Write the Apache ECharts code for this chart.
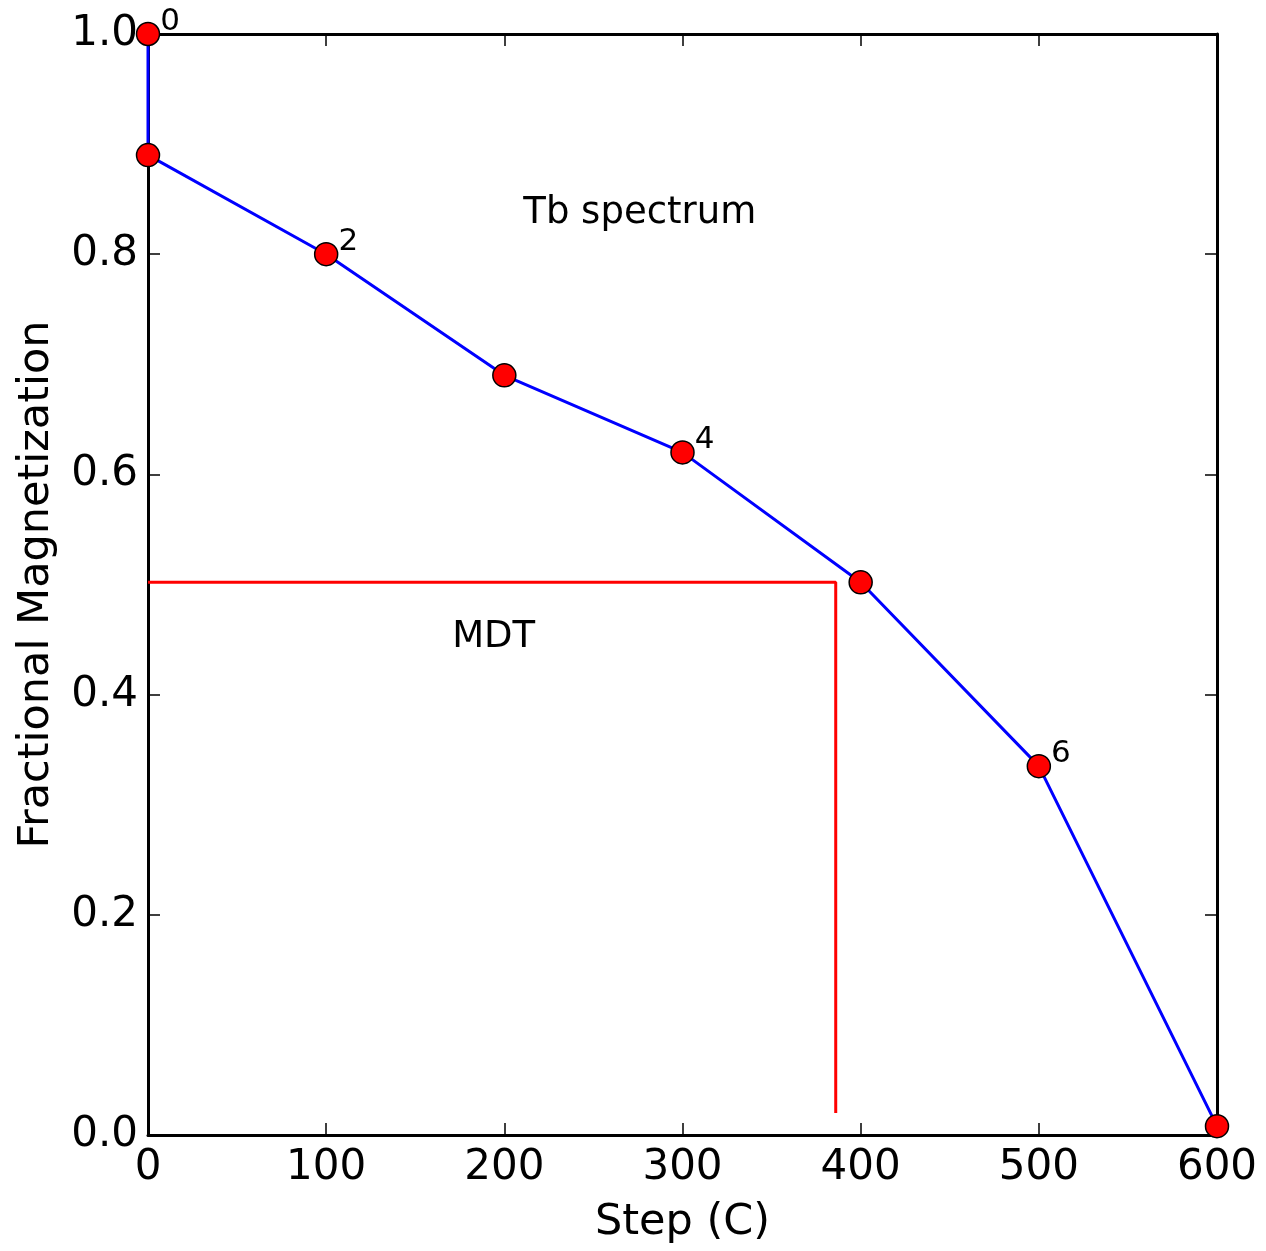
<!DOCTYPE html>
<html><head><meta charset="utf-8">
<script src="https://cdn.jsdelivr.net/npm/echarts@6/dist/echarts.min.js"></script>
<style>html,body{margin:0;padding:0;background:#fff}#c{width:1266px;height:1251px}</style>
</head><body><div id="c"></div>
<script>
const steps = [0, 0, 100, 200, 300, 400, 500, 600];
const magnetization = [1.0, 0.89, 0.80, 0.69, 0.62, 0.502, 0.335, 0.008];
const mdtX = [0, 386, 386];
const mdtY = [0.502, 0.502, 0.02];
const annotations = [
  {text: 'Tb spectrum', x: 276, y: 0.837},
  {text: 'MDT', x: 194, y: 0.452}
];
const xTicks = [0, 100, 200, 300, 400, 500, 600];
const yTicks = [0.0, 0.2, 0.4, 0.6, 0.8, 1.0];
const FONT = 'DejaVu Sans';

const chart = echarts.init(document.getElementById('c'));
function axisCommon() {
  return {
    axisLine: {show: true, onZero: false, lineStyle: {color: '#000', width: 3}},
    axisTick: {show: true, inside: true, length: 12, lineStyle: {color: '#000', width: 1.5}},
    splitLine: {show: false}
  };
}
chart.setOption({
  animation: false,
  backgroundColor: '#fff',
  grid: {left: 148, right: 49, top: 34, bottom: 116},
  xAxis: [
    Object.assign({type: 'value', min: xTicks[0], max: xTicks[xTicks.length-1], interval: 100, position: 'bottom',
      name: 'Step (C)', nameLocation: 'middle', nameGap: 66,
      nameTextStyle: {fontFamily: FONT, fontSize: 43, color: '#000'},
      axisLabel: {fontFamily: FONT, fontSize: 42, color: '#000', margin: 12}}, axisCommon()),
    Object.assign({type: 'value', min: xTicks[0], max: xTicks[xTicks.length-1], interval: 100, position: 'top',
      axisLabel: {show: false}}, axisCommon())
  ],
  yAxis: [
    Object.assign({type: 'value', min: yTicks[0], max: yTicks[yTicks.length-1], interval: 0.2, position: 'left',
      name: 'Fractional Magnetization', nameLocation: 'middle', nameGap: 90,
      nameTextStyle: {fontFamily: FONT, fontSize: 43, color: '#000'},
      axisLabel: {fontFamily: FONT, fontSize: 42, color: '#000', margin: 10, formatter: v => v.toFixed(1)}}, axisCommon()),
    Object.assign({type: 'value', min: yTicks[0], max: yTicks[yTicks.length-1], interval: 0.2, position: 'right',
      axisLabel: {show: false}}, axisCommon())
  ],
  series: [
    {
      type: 'line', xAxisIndex: 0, yAxisIndex: 0, clip: false, z: 3,
      data: mdtX.map((x, i) => [x, mdtY[i]]),
      showSymbol: false, symbol: 'none',
      lineStyle: {color: '#ff0000', width: 3}
    },
    {
      type: 'line', xAxisIndex: 0, yAxisIndex: 0, clip: false, z: 5,
      data: steps.map((x, i) => [x, magnetization[i]]),
      symbol: 'circle', symbolSize: 23, showAllSymbol: true,
      lineStyle: {color: '#0000ff', width: 3},
      itemStyle: {color: '#ff0000', borderColor: '#000', borderWidth: 1.5},
      label: {
        show: true, position: 'right', distance: 0, offset: [0, -12],
        fontFamily: FONT, fontSize: 31, color: '#000',
        formatter: p => (p.dataIndex % 2 === 0 ? String(p.dataIndex) : '')
      }
    },
    {
      type: 'scatter', xAxisIndex: 0, yAxisIndex: 0, clip: false, z: 6,
      symbolSize: 0, silent: true,
      itemStyle: {opacity: 1},
      data: annotations.map(a => ({value: [a.x, a.y], name: a.text})),
      label: {show: true, position: 'inside', formatter: p => p.name,
        fontFamily: FONT, fontSize: 37, color: '#000'}
    }
  ]
});
</script></body></html>
